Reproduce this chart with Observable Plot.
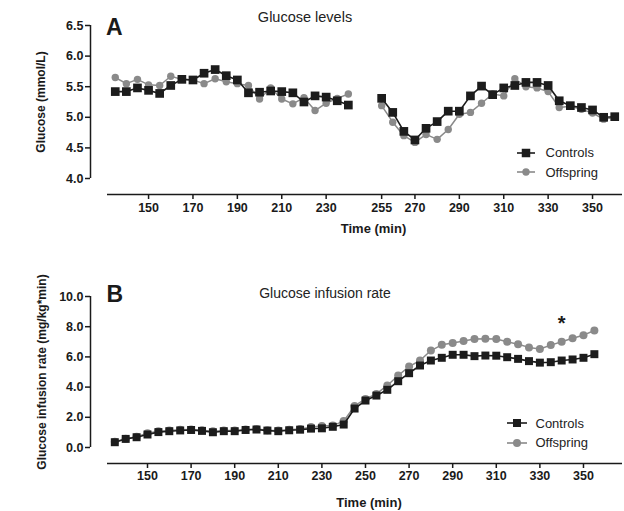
<!DOCTYPE html>
<html>
<head>
<meta charset="utf-8">
<script src="https://cdn.jsdelivr.net/npm/d3@7"></script>
<script src="https://cdn.jsdelivr.net/npm/@observablehq/plot@0.6"></script>
<style>
  body { margin: 0; background: #fff; font-family: "Liberation Sans", Arial, sans-serif; }
  #wrap { position: relative; width: 624px; height: 511px; overflow: hidden; background: #fff; }
  .panel { position: absolute; left: 0; }
  .title { position: absolute; font-size: 14px; color: #222; white-space: nowrap; transform: translate(-50%, -50%); }
  .letter { position: absolute; font-size: 23px; font-weight: bold; line-height: 1; color: #1a1a1a; }
  .axlabel { position: absolute; font-weight: bold; white-space: nowrap; color: #1a1a1a; transform: translate(-50%, -50%); }
  .ylab { transform: translate(-50%, -50%) rotate(-90deg); font-size: 12px; }
  .xlab { font-size: 13px; }
  .legend { position: absolute; font-size: 13px; color: #222; }
  .legend .row { display: flex; align-items: center; height: 19.5px; }
  .legend svg { display: block; }
  svg text { font-family: "Liberation Sans", Arial, sans-serif; }
</style>
</head>
<body>
<div id="wrap">
  <div id="panelA" class="panel" style="top:0"></div>
  <div id="panelB" class="panel" style="top:245px"></div>
</div>
<script>
// ---------- Data ----------
const seriesNames = ["Controls", "Offspring"];
const seriesColors = ["#1c1c1c", "#8a8a8a"];

// Panel A: glucose levels (mmol/L)
const glucoseTimes = [135,140,145,150,155,160,165,170,175,180,185,190,195,200,205,210,215,220,225,230,235,240,
                      255,260,265,270,275,280,285,290,295,300,305,310,315,320,325,330,335,340,345,350,355,360];
const glucoseControls = [5.42,5.42,5.48,5.44,5.39,5.52,5.62,5.61,5.72,5.78,5.68,5.61,5.40,5.41,5.43,5.42,5.40,5.25,5.35,5.33,5.27,5.20,
                         5.31,5.08,4.77,4.63,4.82,4.93,5.10,5.10,5.35,5.51,5.37,5.48,5.52,5.57,5.57,5.52,5.27,5.19,5.16,5.12,5.00,5.01];
const glucoseOffspring = [5.65,5.55,5.62,5.53,5.52,5.67,5.62,5.61,5.55,5.63,5.58,5.55,5.52,5.30,5.48,5.30,5.22,5.32,5.11,5.23,5.31,5.38,
                          5.19,4.92,4.70,4.59,4.72,4.64,4.80,5.05,5.08,5.23,5.38,5.35,5.63,5.50,5.48,5.42,5.16,5.18,5.13,5.07,4.97,5.00];
const glucoseXTicks = [150,170,190,210,230,255,270,290,310,330,350];
const glucoseYTicks = [4.0,4.5,5.0,5.5,6.0,6.5];

// Panel B: glucose infusion rate (mg/kg*min)
const girTimes = [135,140,145,150,155,160,165,170,175,180,185,190,195,200,205,210,215,220,225,230,235,240,245,250,
                  255,260,265,270,275,280,285,290,295,300,305,310,315,320,325,330,335,340,345,350,355];
const girControls = [0.35,0.57,0.68,0.86,1.02,1.08,1.13,1.16,1.10,1.01,1.08,1.08,1.16,1.19,1.12,1.08,1.14,1.18,1.25,1.27,1.37,1.52,2.58,3.11,
                     3.44,3.82,4.39,4.92,5.43,5.76,5.94,6.14,6.14,6.05,6.09,6.08,5.98,5.87,5.72,5.62,5.65,5.76,5.83,5.94,6.18];
const girOffspring = [0.38,0.58,0.72,0.95,1.08,1.12,1.18,1.20,1.15,1.08,1.12,1.12,1.20,1.22,1.15,1.12,1.18,1.22,1.35,1.42,1.45,1.75,2.75,3.22,
                      3.55,4.11,4.77,5.36,5.76,6.42,6.80,6.92,7.05,7.18,7.20,7.18,7.00,6.84,6.63,6.52,6.78,7.00,7.24,7.44,7.75];
const girXTicks = [150,170,190,210,230,250,270,290,310,330,350];
const girYTicks = [0,2,4,6,8,10];

// significance marker
const starTime = [340];
const starValue = [8.2];
const starLabel = ["*"];

// ---------- Helpers ----------
function rows(times, values, series, segmentOf) {
  return times.map((t, i) => ({time: t, value: values[i], series, segment: segmentOf(t)}));
}

function panel({height, marginTop, marginBottom, xDomain, yDomain, xTicks, yTicks, ctrl, offs,
                squareR, circleR, tickPadding, extra = []}) {
  return Plot.plot({
    width: 624,
    height,
    marginLeft: 90,
    marginRight: 2,
    marginTop,
    marginBottom,
    style: {fontFamily: "'Liberation Sans', Arial, sans-serif", fontSize: "12.5px", fontWeight: "bold", color: "#1a1a1a", background: "transparent", overflow: "visible"},
    x: {domain: xDomain, insetLeft: 17},
    y: {domain: yDomain, insetBottom: 16},
    marks: [
      Plot.ruleX([xDomain[0]], {y1: yDomain[0], y2: yDomain[1], dx: -17, stroke: "#1a1a1a", strokeWidth: 1.5}),
      Plot.ruleY([yDomain[0]], {x1: xDomain[0], x2: xDomain[1], dy: 16, stroke: "#1a1a1a", strokeWidth: 1.5}),
      Plot.axisX(xTicks, {tickSize: 5, tickPadding, strokeWidth: 1.5, label: null}),
      Plot.axisY(yTicks, {tickSize: 5, tickPadding: 2, strokeWidth: 1.5, tickFormat: d3.format(".1f"), label: null}),
      Plot.line(offs, {x: "time", y: "value", z: "segment", stroke: seriesColors[1], strokeWidth: 1.5}),
      Plot.dot(offs, {x: "time", y: "value", r: circleR, fill: seriesColors[1], symbol: "circle"}),
      Plot.line(ctrl, {x: "time", y: "value", z: "segment", stroke: seriesColors[0], strokeWidth: 1.6}),
      Plot.dot(ctrl, {x: "time", y: "value", r: squareR, fill: seriesColors[0], symbol: "square"}),
      ...extra
    ]
  });
}

// ---------- Panel A ----------
const segA = t => (t < 250 ? "basal" : "clamp");
const plotA = panel({
  height: 245, marginTop: 25, marginBottom: 51,
  xDomain: [131.5, 363.5], yDomain: [4.0, 6.5],
  xTicks: glucoseXTicks, yTicks: glucoseYTicks,
  ctrl: rows(glucoseTimes, glucoseControls, seriesNames[0], segA),
  offs: rows(glucoseTimes, glucoseOffspring, seriesNames[1], segA),
  squareR: 4.9, circleR: 3.7, tickPadding: 4
});
document.getElementById("panelA").appendChild(plotA);

// ---------- Panel B ----------
const segB = () => "all";
const plotB = panel({
  height: 266, marginTop: 51, marginBottom: 48,
  xDomain: [131.65, 367.9], yDomain: [0, 10],
  xTicks: girXTicks, yTicks: girYTicks,
  ctrl: rows(girTimes, girControls, seriesNames[0], segB),
  offs: rows(girTimes, girOffspring, seriesNames[1], segB),
  squareR: 4.5, circleR: 4, tickPadding: 3,
  extra: [Plot.text(starTime.map((t, i) => ({time: t, value: starValue[i], label: starLabel[i]})),
           {x: "time", y: "value", text: "label", fontSize: 20, fontWeight: "bold", fill: "#1a1a1a"})]
});
document.getElementById("panelB").appendChild(plotB);

// ---------- Overlays: titles, letters, axis titles, legends ----------
const wrap = document.getElementById("wrap");
function addDiv(cls, text, style) {
  const d = document.createElement("div");
  d.className = cls;
  d.textContent = text;
  Object.assign(d.style, style);
  wrap.appendChild(d);
  return d;
}
addDiv("letter", "A", {left: "106px", top: "16px"});
addDiv("letter", "B", {left: "106.5px", top: "283px"});
addDiv("title", "Glucose levels", {left: "305px", top: "17px", fontSize: "14.5px"});
addDiv("title", "Glucose infusion rate", {left: "325px", top: "293px"});
addDiv("axlabel ylab", "Glucose (mmol/L)", {left: "40.5px", top: "102px"});
addDiv("axlabel ylab", "Glucose infusion rate (mg/kg*min)", {left: "41.5px", top: "372px"});
addDiv("axlabel xlab", "Time (min)", {left: "373.5px", top: "227.5px"});
addDiv("axlabel xlab", "Time (min)", {left: "369px", top: "502px"});

function legend(left, top, keyWidth, gap, squareSide, circleR) {
  const box = document.createElement("div");
  box.className = "legend";
  Object.assign(box.style, {left: left + "px", top: top + "px"});
  seriesNames.forEach((name, i) => {
    const row = document.createElement("div");
    row.className = "row";
    const svg = d3.create("svg").attr("width", keyWidth).attr("height", 14).style("margin-right", gap + "px");
    svg.append("line").attr("x1", 0).attr("x2", keyWidth).attr("y1", 7).attr("y2", 7)
      .attr("stroke", seriesColors[i]).attr("stroke-width", 1.6);
    const size = i === 0 ? squareSide * squareSide : Math.PI * circleR * circleR;
    svg.append("path").attr("transform", `translate(${keyWidth / 2},7)`)
      .attr("d", d3.symbol(i === 0 ? d3.symbolSquare : d3.symbolCircle, size)())
      .attr("fill", seriesColors[i]);
    row.appendChild(svg.node());
    const span = document.createElement("span");
    span.textContent = name;
    row.appendChild(span);
    box.appendChild(row);
  });
  wrap.appendChild(box);
}
legend(517, 143, 18, 10.5, 8.5, 3.7);
legend(507, 413.5, 20, 8.5, 8, 4);
</script>
</body>
</html>
